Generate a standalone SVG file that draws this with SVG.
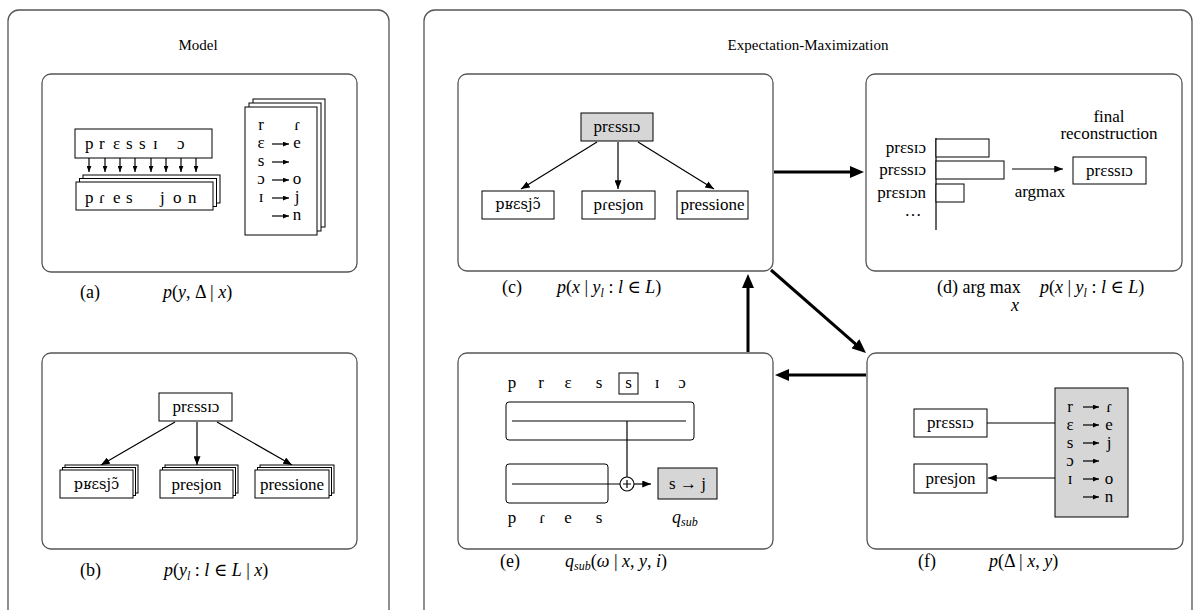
<svg xmlns="http://www.w3.org/2000/svg" width="1203" height="610" viewBox="0 0 1203 610">
<style>
text{font-family:"Liberation Serif","DejaVu Serif",serif;fill:#000}
.n{font-size:17px}
.dj{font-family:"DejaVu Serif","Liberation Serif",serif;font-size:14.5px}
.c{font-size:18px}
.ti{font-size:15px}
.m{text-anchor:middle}
.e{text-anchor:end}
.i{font-style:italic}
.outer{fill:#fff;stroke:#555;stroke-width:1.3}
.panel{fill:#fff;stroke:#555;stroke-width:1.3}
.box{fill:#fff;stroke:#000;stroke-width:1}
.frame{fill:none;stroke:#000;stroke-width:1}
.gray{fill:#d6d6d6;stroke:#000;stroke-width:1}
.ln{stroke:#000;stroke-width:1.2;fill:none}
.thick{stroke:#000;stroke-width:3;fill:none}
</style>
<defs>
<marker id="ah" viewBox="0 0 10 8" refX="10" refY="4" markerWidth="9" markerHeight="7" markerUnits="userSpaceOnUse" orient="auto"><path d="M0,0 L10,4 L0,8z" fill="#000"/></marker>
<marker id="as" viewBox="0 0 10 8" refX="10" refY="4" markerWidth="6" markerHeight="5" markerUnits="userSpaceOnUse" orient="auto"><path d="M0,0 L10,4 L0,8z" fill="#000"/></marker>
<marker id="at" viewBox="0 0 14 12" refX="3" refY="6" markerWidth="14" markerHeight="12" markerUnits="userSpaceOnUse" orient="auto"><path d="M0,0 L14,6 L0,12z" fill="#000"/></marker>
</defs>
<rect width="1203" height="610" fill="#fff"/>

<g id="model-frame">
<rect class="outer" x="8" y="10" width="381" height="620" rx="11"/>
<text class="ti m" x="198" y="50">Model</text>
</g>
<g id="em-frame">
<rect class="outer" x="424" y="10" width="768" height="620" rx="11"/>
<text class="ti m" x="808" y="50">Expectation-Maximization</text>
</g>

<g id="panel-a">
<rect class="panel" x="42" y="74" width="315" height="198" rx="9"/>
<rect class="box" x="75" y="129" width="137" height="29"/>
<text class="n" x="85 99 113 126 139 153 177" y="149">prɛssɪɔ</text>
<g class="ln">
<line x1="89" y1="158" x2="89" y2="172" marker-end="url(#as)"/>
<line x1="105" y1="158" x2="105" y2="172" marker-end="url(#as)"/>
<line x1="120" y1="158" x2="120" y2="172" marker-end="url(#as)"/>
<line x1="135" y1="158" x2="135" y2="172" marker-end="url(#as)"/>
<line x1="151" y1="158" x2="151" y2="172" marker-end="url(#as)"/>
<line x1="166" y1="158" x2="166" y2="172" marker-end="url(#as)"/>
<line x1="181" y1="158" x2="181" y2="172" marker-end="url(#as)"/>
<line x1="196" y1="158" x2="196" y2="172" marker-end="url(#as)"/>
</g>
<rect class="box" x="83" y="175" width="137" height="28"/>
<rect class="box" x="79.5" y="178.5" width="137" height="28"/>
<rect class="box" x="76" y="182" width="137" height="28"/>
<text class="n" x="85 99 113 126 160 173 188" y="203">pɾesjon</text>
<rect class="box" x="253" y="99" width="72" height="128"/>
<rect class="box" x="249" y="103" width="72" height="128"/>
<rect class="box" x="245" y="107" width="72" height="128"/>
<text class="n m" x="261" y="130">r</text><text class="n m" x="297" y="130">ɾ</text>
<text class="n m" x="261" y="148">ɛ</text><text class="n m" x="297" y="148">e</text>
<text class="n m" x="261" y="166">s</text>
<text class="n m" x="261" y="184">ɔ</text><text class="n m" x="297" y="184">o</text>
<text class="n m" x="261" y="202">ɪ</text><text class="n m" x="297" y="202">j</text>
<text class="n m" x="297" y="220">n</text>
<g class="ln">
<line x1="272" y1="144" x2="289" y2="144" marker-end="url(#as)"/>
<line x1="272" y1="162" x2="289" y2="162" marker-end="url(#as)"/>
<line x1="272" y1="180" x2="289" y2="180" marker-end="url(#as)"/>
<line x1="272" y1="198" x2="289" y2="198" marker-end="url(#as)"/>
<line x1="272" y1="216" x2="289" y2="216" marker-end="url(#as)"/>
</g>
<text class="c" x="80" y="298">(a)</text>
<text class="c" x="163" y="298"><tspan class="i">p</tspan>(<tspan class="i">y</tspan>, Δ | <tspan class="i">x</tspan>)</text>
</g>

<g id="panel-b">
<rect class="panel" x="42" y="353" width="315" height="196" rx="9"/>
<rect class="box" x="159" y="393" width="73" height="28"/>
<text class="n m" x="196" y="412">prɛssɪɔ</text>
<g class="ln">
<line x1="175" y1="422" x2="101" y2="465" marker-end="url(#ah)"/>
<line x1="197" y1="422" x2="197" y2="465" marker-end="url(#ah)"/>
<line x1="217" y1="422" x2="292" y2="465" marker-end="url(#ah)"/>
</g>
<rect class="box" x="65" y="465" width="73" height="28"/>
<rect class="box" x="62.5" y="467.5" width="73" height="28"/>
<rect class="box" x="60" y="470" width="73" height="28"/>
<text class="dj m" x="96.5" y="489">pʁɛsjɔ̃</text>
<rect class="box" x="165" y="465" width="73" height="28"/>
<rect class="box" x="162.5" y="467.5" width="73" height="28"/>
<rect class="box" x="160" y="470" width="73" height="28"/>
<text class="n m" x="196.5" y="490">presjon</text>
<rect class="box" x="260" y="465" width="74" height="28"/>
<rect class="box" x="257.5" y="467.5" width="74" height="28"/>
<rect class="box" x="255" y="470" width="74" height="28"/>
<text class="n m" x="292" y="490">pressione</text>
<text class="c" x="80" y="576">(b)</text>
<text class="c" x="164" y="576"><tspan class="i">p</tspan>(<tspan class="i">y</tspan><tspan class="i" font-size="12" dy="4">l</tspan><tspan dy="-4"> : </tspan><tspan class="i">l</tspan> ∈ <tspan class="i">L</tspan> | <tspan class="i">x</tspan>)</text>
</g>

<g id="panel-c">
<rect class="panel" x="458" y="74" width="315" height="197" rx="9"/>
<rect class="gray" x="581" y="113" width="72" height="28"/>
<text class="n m" x="617" y="132">prɛssɪɔ</text>
<g class="ln">
<line x1="597" y1="142" x2="521" y2="189" marker-end="url(#ah)"/>
<line x1="618" y1="142" x2="618" y2="189" marker-end="url(#ah)"/>
<line x1="638" y1="142" x2="714" y2="189" marker-end="url(#ah)"/>
</g>
<rect class="box" x="482" y="191" width="72" height="28"/>
<text class="dj m" x="518" y="209">pʁɛsjɔ̃</text>
<rect class="box" x="582" y="191" width="73" height="28"/>
<text class="n m" x="618.5" y="210">pɾesjon</text>
<rect class="box" x="677" y="191" width="71" height="28"/>
<text class="n m" x="712.5" y="210">pressione</text>
<text class="c" x="502" y="293">(c)</text>
<text class="c" x="557" y="293"><tspan class="i">p</tspan>(<tspan class="i">x</tspan> | <tspan class="i">y</tspan><tspan class="i" font-size="12" dy="4">l</tspan><tspan dy="-4"> : </tspan><tspan class="i">l</tspan> ∈ <tspan class="i">L</tspan>)</text>
</g>

<g id="panel-d">
<rect class="panel" x="866" y="74" width="316" height="197" rx="9"/>
<line class="ln" x1="936" y1="138" x2="936" y2="230"/>
<rect class="box" x="936" y="139" width="53" height="18"/>
<rect class="box" x="936" y="161" width="68" height="18"/>
<rect class="box" x="936" y="184" width="28" height="18"/>
<text class="n e" x="926" y="153">prɛsɪɔ</text>
<text class="n e" x="926" y="175">prɛssɪɔ</text>
<text class="n e" x="926" y="198">prɛsɪɔn</text>
<text class="n m" x="913" y="216">…</text>
<line class="ln" x1="1012" y1="169" x2="1063" y2="169" marker-end="url(#ah)"/>
<text class="n m" x="1040" y="197">argmax</text>
<text class="n m" x="1109" y="122">final</text>
<text class="n m" x="1109" y="139">reconstruction</text>
<rect class="box" x="1073" y="157" width="73" height="27"/>
<text class="n m" x="1109.5" y="176">prɛssɪɔ</text>
<text class="c" x="937" y="293">(d) arg max</text>
<text class="c i" x="1011" y="311" font-size="15">x</text>
<text class="c" x="1040" y="293"><tspan class="i">p</tspan>(<tspan class="i">x</tspan> | <tspan class="i">y</tspan><tspan class="i" font-size="12" dy="4">l</tspan><tspan dy="-4"> : </tspan><tspan class="i">l</tspan> ∈ <tspan class="i">L</tspan>)</text>
</g>

<g id="panel-e">
<rect class="panel" x="458" y="353" width="315" height="196" rx="9"/>
<rect class="frame" x="619" y="373" width="19" height="21"/>
<text class="n m" x="512" y="388">p</text>
<text class="n m" x="541" y="388">r</text>
<text class="n m" x="568" y="388">ɛ</text>
<text class="n m" x="599" y="388">s</text>
<text class="n m" x="628.5" y="388">s</text>
<text class="n m" x="657" y="388">ɪ</text>
<text class="n m" x="682" y="388">ɔ</text>
<rect class="box" x="506" y="402" width="188" height="38" rx="3"/>
<line class="ln" x1="512" y1="421" x2="686" y2="421"/>
<line class="ln" x1="627" y1="421" x2="627" y2="477"/>
<rect class="box" x="506" y="464" width="102" height="39" rx="3"/>
<line class="ln" x1="512" y1="484" x2="620" y2="484"/>
<circle cx="627" cy="484" r="7" fill="#fff" stroke="#000" stroke-width="1.1"/>
<path class="ln" d="M623,484 H631 M627,480 V488" stroke-width="1"/>
<line class="ln" x1="634" y1="484" x2="651" y2="484" marker-end="url(#ah)"/>
<rect class="gray" x="658" y="468" width="59" height="31"/>
<text class="n m" x="687.5" y="489">s → j</text>
<text class="n m" x="512" y="523">p</text>
<text class="n m" x="542" y="523">ɾ</text>
<text class="n m" x="568" y="523">e</text>
<text class="n m" x="599" y="523">s</text>
<text class="c i" x="672" y="523">q<tspan font-size="12" dy="3">sub</tspan></text>
<text class="c" x="500" y="567">(e)</text>
<text class="c" x="565" y="567"><tspan class="i">q</tspan><tspan class="i" font-size="12" dy="3">sub</tspan><tspan dy="-3">(</tspan><tspan class="i">ω</tspan> | <tspan class="i">x</tspan>, <tspan class="i">y</tspan>, <tspan class="i">i</tspan>)</text>
</g>

<g id="panel-f">
<rect class="panel" x="867" y="353" width="316" height="196" rx="9"/>
<rect class="box" x="914" y="409" width="73" height="28"/>
<text class="n m" x="950.5" y="428">prɛssɪɔ</text>
<rect class="box" x="914" y="464" width="73" height="29"/>
<text class="n m" x="950.5" y="484">presjon</text>
<rect class="gray" x="1055" y="388" width="73" height="129"/>
<line class="ln" x1="987" y1="423" x2="1055" y2="423"/>
<line class="ln" x1="1055" y1="478" x2="988" y2="478" marker-end="url(#ah)"/>
<text class="n m" x="1070" y="412">r</text><text class="n m" x="1109" y="412">ɾ</text>
<text class="n m" x="1070" y="430">ɛ</text><text class="n m" x="1109" y="430">e</text>
<text class="n m" x="1070" y="448">s</text><text class="n m" x="1109" y="448">j</text>
<text class="n m" x="1070" y="466">ɔ</text>
<text class="n m" x="1070" y="484">ɪ</text><text class="n m" x="1109" y="484">o</text>
<text class="n m" x="1109" y="502">n</text>
<g class="ln">
<line x1="1083" y1="407" x2="1099" y2="407" marker-end="url(#as)"/>
<line x1="1083" y1="425" x2="1099" y2="425" marker-end="url(#as)"/>
<line x1="1083" y1="443" x2="1099" y2="443" marker-end="url(#as)"/>
<line x1="1083" y1="461" x2="1099" y2="461" marker-end="url(#as)"/>
<line x1="1083" y1="479" x2="1099" y2="479" marker-end="url(#as)"/>
<line x1="1083" y1="497" x2="1099" y2="497" marker-end="url(#as)"/>
</g>
<text class="c" x="918" y="567">(f)</text>
<text class="c" x="989" y="567"><tspan class="i">p</tspan>(Δ | <tspan class="i">x</tspan>, <tspan class="i">y</tspan>)</text>
</g>

<g id="connectors">
<line class="thick" x1="774" y1="172" x2="853" y2="172" marker-end="url(#at)"/>
<line class="thick" x1="771" y1="270" x2="857.7" y2="345.8" marker-end="url(#at)"/>
<line class="thick" x1="866" y1="375" x2="786" y2="375" marker-end="url(#at)"/>
<line class="thick" x1="748" y1="352" x2="748" y2="285" marker-end="url(#at)"/>
</g>
</svg>
